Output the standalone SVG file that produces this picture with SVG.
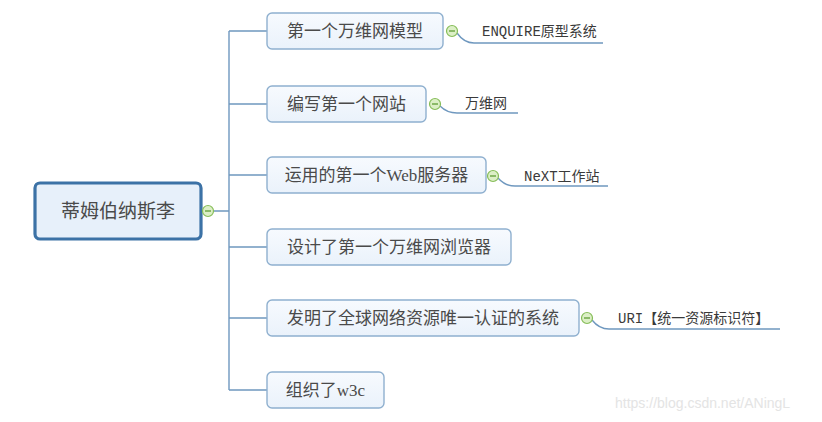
<svg xmlns="http://www.w3.org/2000/svg" width="822" height="422" viewBox="0 0 822 422">
<defs>
<linearGradient id="boxfill" x1="0" y1="0" x2="0" y2="1">
<stop offset="0" stop-color="#f7fafe"/>
<stop offset="1" stop-color="#eaf2fb"/>
</linearGradient>
</defs>
<style>
.box{fill:url(#boxfill);stroke:#8fb0cf;stroke-width:1.4}
.root{fill:#e7f0fa;stroke:#3c72a6;stroke-width:3.2}
.t{font-family:"Liberation Serif","Noto Sans CJK SC",serif;font-size:17px;fill:#4a4a4a;text-anchor:middle}
.rt{font-family:"Noto Sans CJK SC",sans-serif;font-size:19px;fill:#4a4a4a;text-anchor:middle}
.lb{font-family:"Liberation Mono","Noto Sans CJK SC",monospace;font-size:14px;fill:#3a3a3a}
.conn{fill:none;stroke:#6f98bf;stroke-width:1.4}
.col circle{fill:#dcefc6;stroke:#86bd58;stroke-width:1.2}
.col line{stroke:#5f9e35;stroke-width:1.3}
.wm{font-family:"Liberation Sans",Arial,sans-serif;font-size:14px;fill:#e4e4e4}
</style>
<rect width="822" height="422" fill="#ffffff"/>
<g id="connectors">
<path class="conn" d="M214 211H229M229 31V390M229 31H267M229 104H267M229 175H267M229 247H267M229 318H267M229 390H267"/>
<path class="conn" d="M457 33Q464 43 474 43H603"/>
<path class="conn" d="M440 106Q447 113 457 113H518"/>
<path class="conn" d="M498 178Q505 186 515 186H608"/>
<path class="conn" d="M592 320Q599 329 609 329H780"/>
</g>
<g id="root">
<rect class="root" x="35" y="183" width="166" height="56" rx="5"/>
<text class="rt" x="118" y="218">蒂姆伯纳斯李</text>
<g class="col"><circle cx="208" cy="211" r="5.5"/><line x1="205" y1="211" x2="211" y2="211"/></g>
</g>
<g id="n1">
<rect class="box" x="267" y="13" width="176" height="36" rx="5"/>
<text class="t" x="355" y="37">第一个万维网模型</text>
<g class="col"><circle cx="452" cy="31" r="5.5"/><line x1="449" y1="31" x2="455" y2="31"/></g>
</g>
<g id="n1a"><text class="lb" x="482" y="36">ENQUIRE原型系统</text></g>
<g id="n2">
<rect class="box" x="267" y="86" width="159" height="36" rx="5"/>
<text class="t" x="346.5" y="110">编写第一个网站</text>
<g class="col"><circle cx="435" cy="104" r="5.5"/><line x1="432" y1="104" x2="438" y2="104"/></g>
</g>
<g id="n2a"><text class="lb" x="465" y="108">万维网</text></g>
<g id="n3">
<rect class="box" x="267" y="157" width="219" height="36" rx="5"/>
<text class="t" x="376.5" y="181">运用的第一个Web服务器</text>
<g class="col"><circle cx="493" cy="176" r="5.5"/><line x1="490" y1="176" x2="496" y2="176"/></g>
</g>
<g id="n3a"><text class="lb" x="524" y="181">NeXT工作站</text></g>
<g id="n4">
<rect class="box" x="267" y="229" width="244" height="36" rx="5"/>
<text class="t" x="389" y="253">设计了第一个万维网浏览器</text>
</g>
<g id="n5">
<rect class="box" x="267" y="300" width="312" height="36" rx="5"/>
<text class="t" x="423" y="324">发明了全球网络资源唯一认证的系统</text>
<g class="col"><circle cx="587" cy="318" r="5.5"/><line x1="584" y1="318" x2="590" y2="318"/></g>
</g>
<g id="n5a"><text class="lb" x="618" y="323">URI【统一资源标识符】</text></g>
<g id="n6">
<rect class="box" x="267" y="372" width="117" height="36" rx="5"/>
<text class="t" x="325.5" y="396">组织了w3c</text>
</g>
<text class="wm" x="615" y="408">https://blog.csdn.net/ANingL</text>
</svg>
